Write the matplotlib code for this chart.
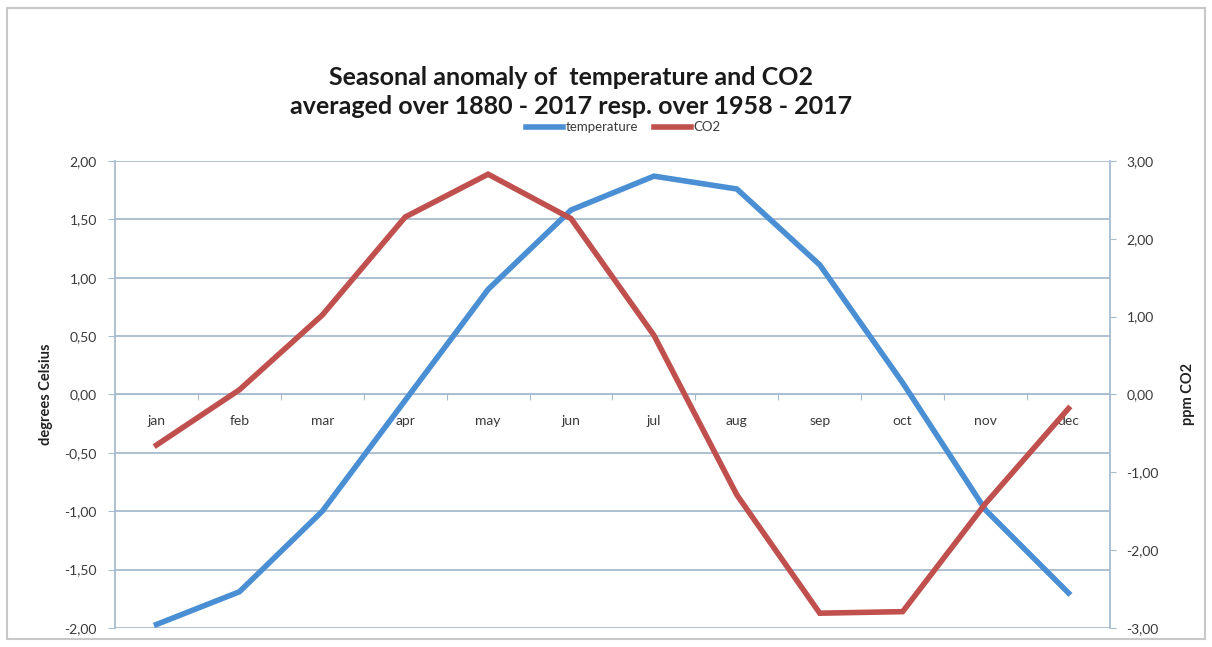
import numpy as np
import matplotlib
matplotlib.use('Agg')
import matplotlib.pyplot as plt
from matplotlib.ticker import FixedLocator, FuncFormatter
from matplotlib.patches import Rectangle
from matplotlib.lines import Line2D

plt.rcParams['font.family'] = ['Lato', 'DejaVu Sans']

months = ["jan", "feb", "mar", "apr", "may", "jun", "jul", "aug", "sep", "oct", "nov", "dec"]
temperature = [-1.97, -1.69, -1.00, -0.05, 0.90, 1.58, 1.87, 1.76, 1.11, 0.10, -0.99, -1.70]
co2 = [-0.65, 0.06, 1.02, 2.28, 2.83, 2.26, 0.76, -1.29, -2.81, -2.79, -1.40, -0.18]
left_ticks = [-2.0, -1.5, -1.0, -0.5, 0.0, 0.5, 1.0, 1.5, 2.0]
right_ticks = [-3, -2, -1, 0, 1, 2, 3]

blue = "#4A8FD4"
red = "#C0504D"
grid_col = "#A7BCCF"
txt_col = "#3A3A3A"

def comma_fmt(v, pos):
    return f"{v:.2f}".replace(".", ",")

fig = plt.figure(figsize=(12.12, 6.47), dpi=100)
fig.patches.append(Rectangle((0.006, 0.012), 0.988, 0.976, transform=fig.transFigure,
                             fill=False, edgecolor="#C8C8C8", linewidth=1.5))

ax = fig.add_axes([0.0949, 0.0294, 0.8209, 0.7218])
x = np.arange(len(months))

ax.set_xlim(-0.5, 11.5)
ax.set_ylim(-2, 2)
ax.set_yticks(left_ticks)
ax.yaxis.set_major_formatter(FuncFormatter(comma_fmt))
ax.yaxis.grid(True, color=grid_col, linewidth=1.3)
ax.set_axisbelow(True)

# category axis crossing at zero
ax.spines['bottom'].set_position(('data', 0))
ax.spines['bottom'].set_color(grid_col)
ax.spines['top'].set_visible(False)
ax.spines['right'].set_visible(False)
ax.spines['left'].set_color(grid_col)
ax.spines['left'].set_linewidth(1.3)
ax.xaxis.set_major_locator(FixedLocator(np.arange(-0.5, 12, 1)))
ax.xaxis.set_major_formatter(FuncFormatter(lambda v, p: ""))
ax.xaxis.set_minor_locator(FixedLocator(x))
ax.xaxis.set_minor_formatter(FuncFormatter(lambda v, p: months[int(round(v))]))
ax.tick_params(axis='x', which='major', length=4, color=grid_col, direction='out')
ax.tick_params(axis='x', which='minor', length=0, pad=15, labelsize=10, labelcolor=txt_col)
ax.tick_params(axis='y', length=5, color=grid_col, pad=8, labelsize=10, labelcolor=txt_col)

ax.plot(x, temperature, color=blue, linewidth=4, solid_joinstyle='miter', zorder=3)

ax2 = ax.twinx()
ax2.set_ylim(-3, 3)
ax2.set_yticks(right_ticks)
ax2.yaxis.set_major_formatter(FuncFormatter(comma_fmt))
for s in ['top', 'bottom', 'left']:
    ax2.spines[s].set_visible(False)
ax2.spines['right'].set_color(grid_col)
ax2.spines['right'].set_linewidth(1.3)
ax2.tick_params(axis='y', length=4, color=grid_col, pad=8, labelsize=10, labelcolor=txt_col)
ax2.plot(x, co2, color=red, linewidth=4, solid_joinstyle='miter', zorder=3)

ax.set_ylabel("degrees Celsius", fontsize=10.5, fontweight='bold', color="#222222", labelpad=8)
ax2.set_ylabel("ppm CO2", fontsize=10.5, fontweight='bold', color="#222222", labelpad=16)

fig.text(0.471, 0.858, "Seasonal anomaly of  temperature and CO2\naveraged over 1880 - 2017 resp. over 1958 - 2017",
         ha='center', va='center', fontsize=18, fontweight='bold', color="#1a1a1a", linespacing=1.3)

handles = [Line2D([], [], color=blue, linewidth=4), Line2D([], [], color=red, linewidth=4)]
fig.legend(handles, ["temperature", "CO2"], loc='center', bbox_to_anchor=(0.514, 0.803), ncol=2,
           frameon=False, fontsize=9.5, handlelength=2.8, handletextpad=0.2, columnspacing=1.2,
           labelcolor=txt_col)

fig.savefig("out.png", dpi=100, facecolor="white")
